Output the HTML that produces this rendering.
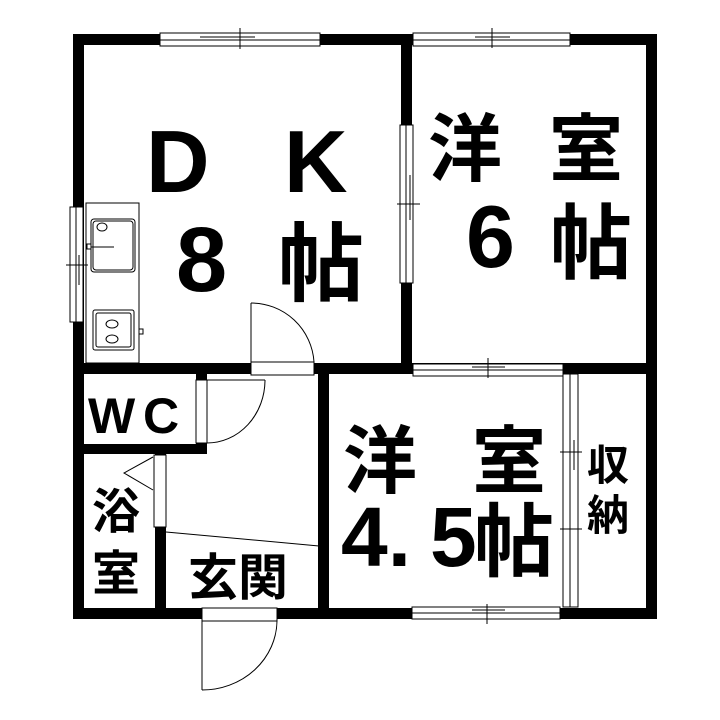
<!DOCTYPE html>
<html><head><meta charset="utf-8"><style>
html,body{margin:0;padding:0;background:#fff;width:720px;height:720px;overflow:hidden}
svg{display:block}
text{font-family:"Liberation Sans","Noto Sans CJK JP",sans-serif;fill:#000}
.b{font-weight:bold}
.j{font-family:"Noto Sans CJK JP","Liberation Sans",sans-serif;font-weight:bold}
</style></head><body>
<svg width="720" height="720" viewBox="0 0 720 720" xmlns="http://www.w3.org/2000/svg">
<g fill="#000">
<rect x="73" y="34" width="11" height="585"/>
<rect x="73" y="34" width="584" height="11"/>
<rect x="646" y="34" width="11" height="585"/>
<rect x="73" y="608" width="584" height="11"/>
<rect x="401" y="34" width="11" height="340"/>
<rect x="73" y="363" width="584" height="11"/>
<rect x="318" y="363" width="11" height="256"/>
<rect x="73" y="444" width="134" height="10"/>
<rect x="196" y="363" width="11" height="91"/>
<rect x="155" y="444" width="11" height="175"/>
</g>
<g fill="#fff" stroke="#000" stroke-width="1">
<rect x="160" y="33" width="160" height="13"/>
<rect x="413" y="33" width="157" height="13"/>
<rect x="70" y="207" width="13" height="115"/>
<rect x="400" y="125" width="13" height="158"/>
<rect x="413" y="364" width="150" height="12"/>
<rect x="412" y="607" width="148" height="12"/>
<rect x="563" y="374" width="15" height="233"/>
<rect x="251" y="362" width="63" height="13"/>
<rect x="196" y="380" width="11" height="63"/>
<rect x="154" y="455" width="12" height="72"/>
<rect x="202" y="608" width="75" height="13"/>
</g>
<g fill="none" stroke="#000" stroke-width="1">
<line x1="160" y1="40" x2="320" y2="40"/><line x1="200" y1="37" x2="255" y2="37"/><line x1="240" y1="28" x2="240" y2="49"/>
<line x1="413" y1="40" x2="570" y2="40"/><line x1="475" y1="37" x2="510" y2="37"/><line x1="492" y1="28" x2="492" y2="48"/>
<line x1="76" y1="207" x2="76" y2="322"/><line x1="79" y1="255" x2="79" y2="285"/><line x1="66" y1="265" x2="88" y2="265"/>
<line x1="406" y1="125" x2="406" y2="283"/><line x1="410" y1="175" x2="410" y2="220"/><line x1="397" y1="204" x2="420" y2="204"/>
<line x1="413" y1="370" x2="563" y2="370"/><line x1="472" y1="367" x2="505" y2="367"/><line x1="488" y1="358" x2="488" y2="378"/>
<line x1="412" y1="613" x2="560" y2="613"/><line x1="472" y1="610" x2="505" y2="610"/><line x1="487" y1="604" x2="487" y2="624"/>
<line x1="570" y1="374" x2="570" y2="607"/><line x1="574" y1="440" x2="574" y2="470"/><line x1="560" y1="452" x2="582" y2="452"/>
<line x1="570" y1="515" x2="570" y2="545"/><line x1="560" y1="529" x2="582" y2="529"/>
<rect x="86" y="203" width="53" height="160"/>
<rect x="91" y="219" width="44" height="53" rx="3"/>
<rect x="93" y="221" width="40" height="49" rx="3"/>
<ellipse cx="102" cy="227" rx="5" ry="4"/>
<rect x="87" y="244" width="4" height="5"/><line x1="91" y1="247" x2="114" y2="247"/>
<rect x="93" y="310" width="41" height="40" rx="2"/>
<rect x="96" y="313" width="35" height="34" rx="2"/>
<ellipse cx="112" cy="324" rx="6" ry="4"/><ellipse cx="112" cy="339" rx="6" ry="4"/>
<rect x="139" y="329" width="4" height="5"/>
<line x1="251" y1="303" x2="251" y2="362"/>
<path d="M251 303 A63 63 0 0 1 314 362"/>
<line x1="207" y1="380" x2="265" y2="380"/>
<path d="M265 380 A58 63 0 0 1 207 443"/>
<polyline points="153,457 124,473 153,490"/>
<line x1="166" y1="532" x2="319" y2="546"/>
<line x1="202" y1="621" x2="202" y2="690"/>
<path d="M202 690 A75 70 0 0 0 277 621"/>
</g>
<text class="b" x="146" y="192" font-size="88">D</text>
<text class="b" x="284" y="192" font-size="88">K</text>
<text class="b" x="176" y="291" font-size="92">8</text>
<text class="j" x="278" y="294" font-size="86">帖</text>
<text class="j" x="428" y="175" font-size="74">洋</text>
<text class="j" x="549" y="175" font-size="74">室</text>
<text class="b" x="466" y="267" font-size="88">6</text>
<text class="j" x="550" y="272" font-size="82">帖</text>
<text class="j" x="343" y="487" font-size="74">洋</text>
<text class="j" x="472" y="487" font-size="74">室</text>
<text class="b" x="341" y="566" font-size="84">4.</text>
<text class="b" x="430" y="566" font-size="84">5</text>
<text class="j" x="474" y="570" font-size="80">帖</text>
<text x="88" y="433" font-size="50" font-weight="bold">W</text>
<text x="143" y="433" font-size="50" font-weight="bold">C</text>
<text class="j" x="92" y="528" font-size="48">浴</text>
<text class="j" x="92" y="590" font-size="48">室</text>
<text class="j" x="188" y="595" font-size="50">玄関</text>
<text class="j" x="587" y="480" font-size="42" font-weight="normal">収</text>
<text class="j" x="587" y="530" font-size="42" font-weight="normal">納</text>
</svg>
</body></html>
